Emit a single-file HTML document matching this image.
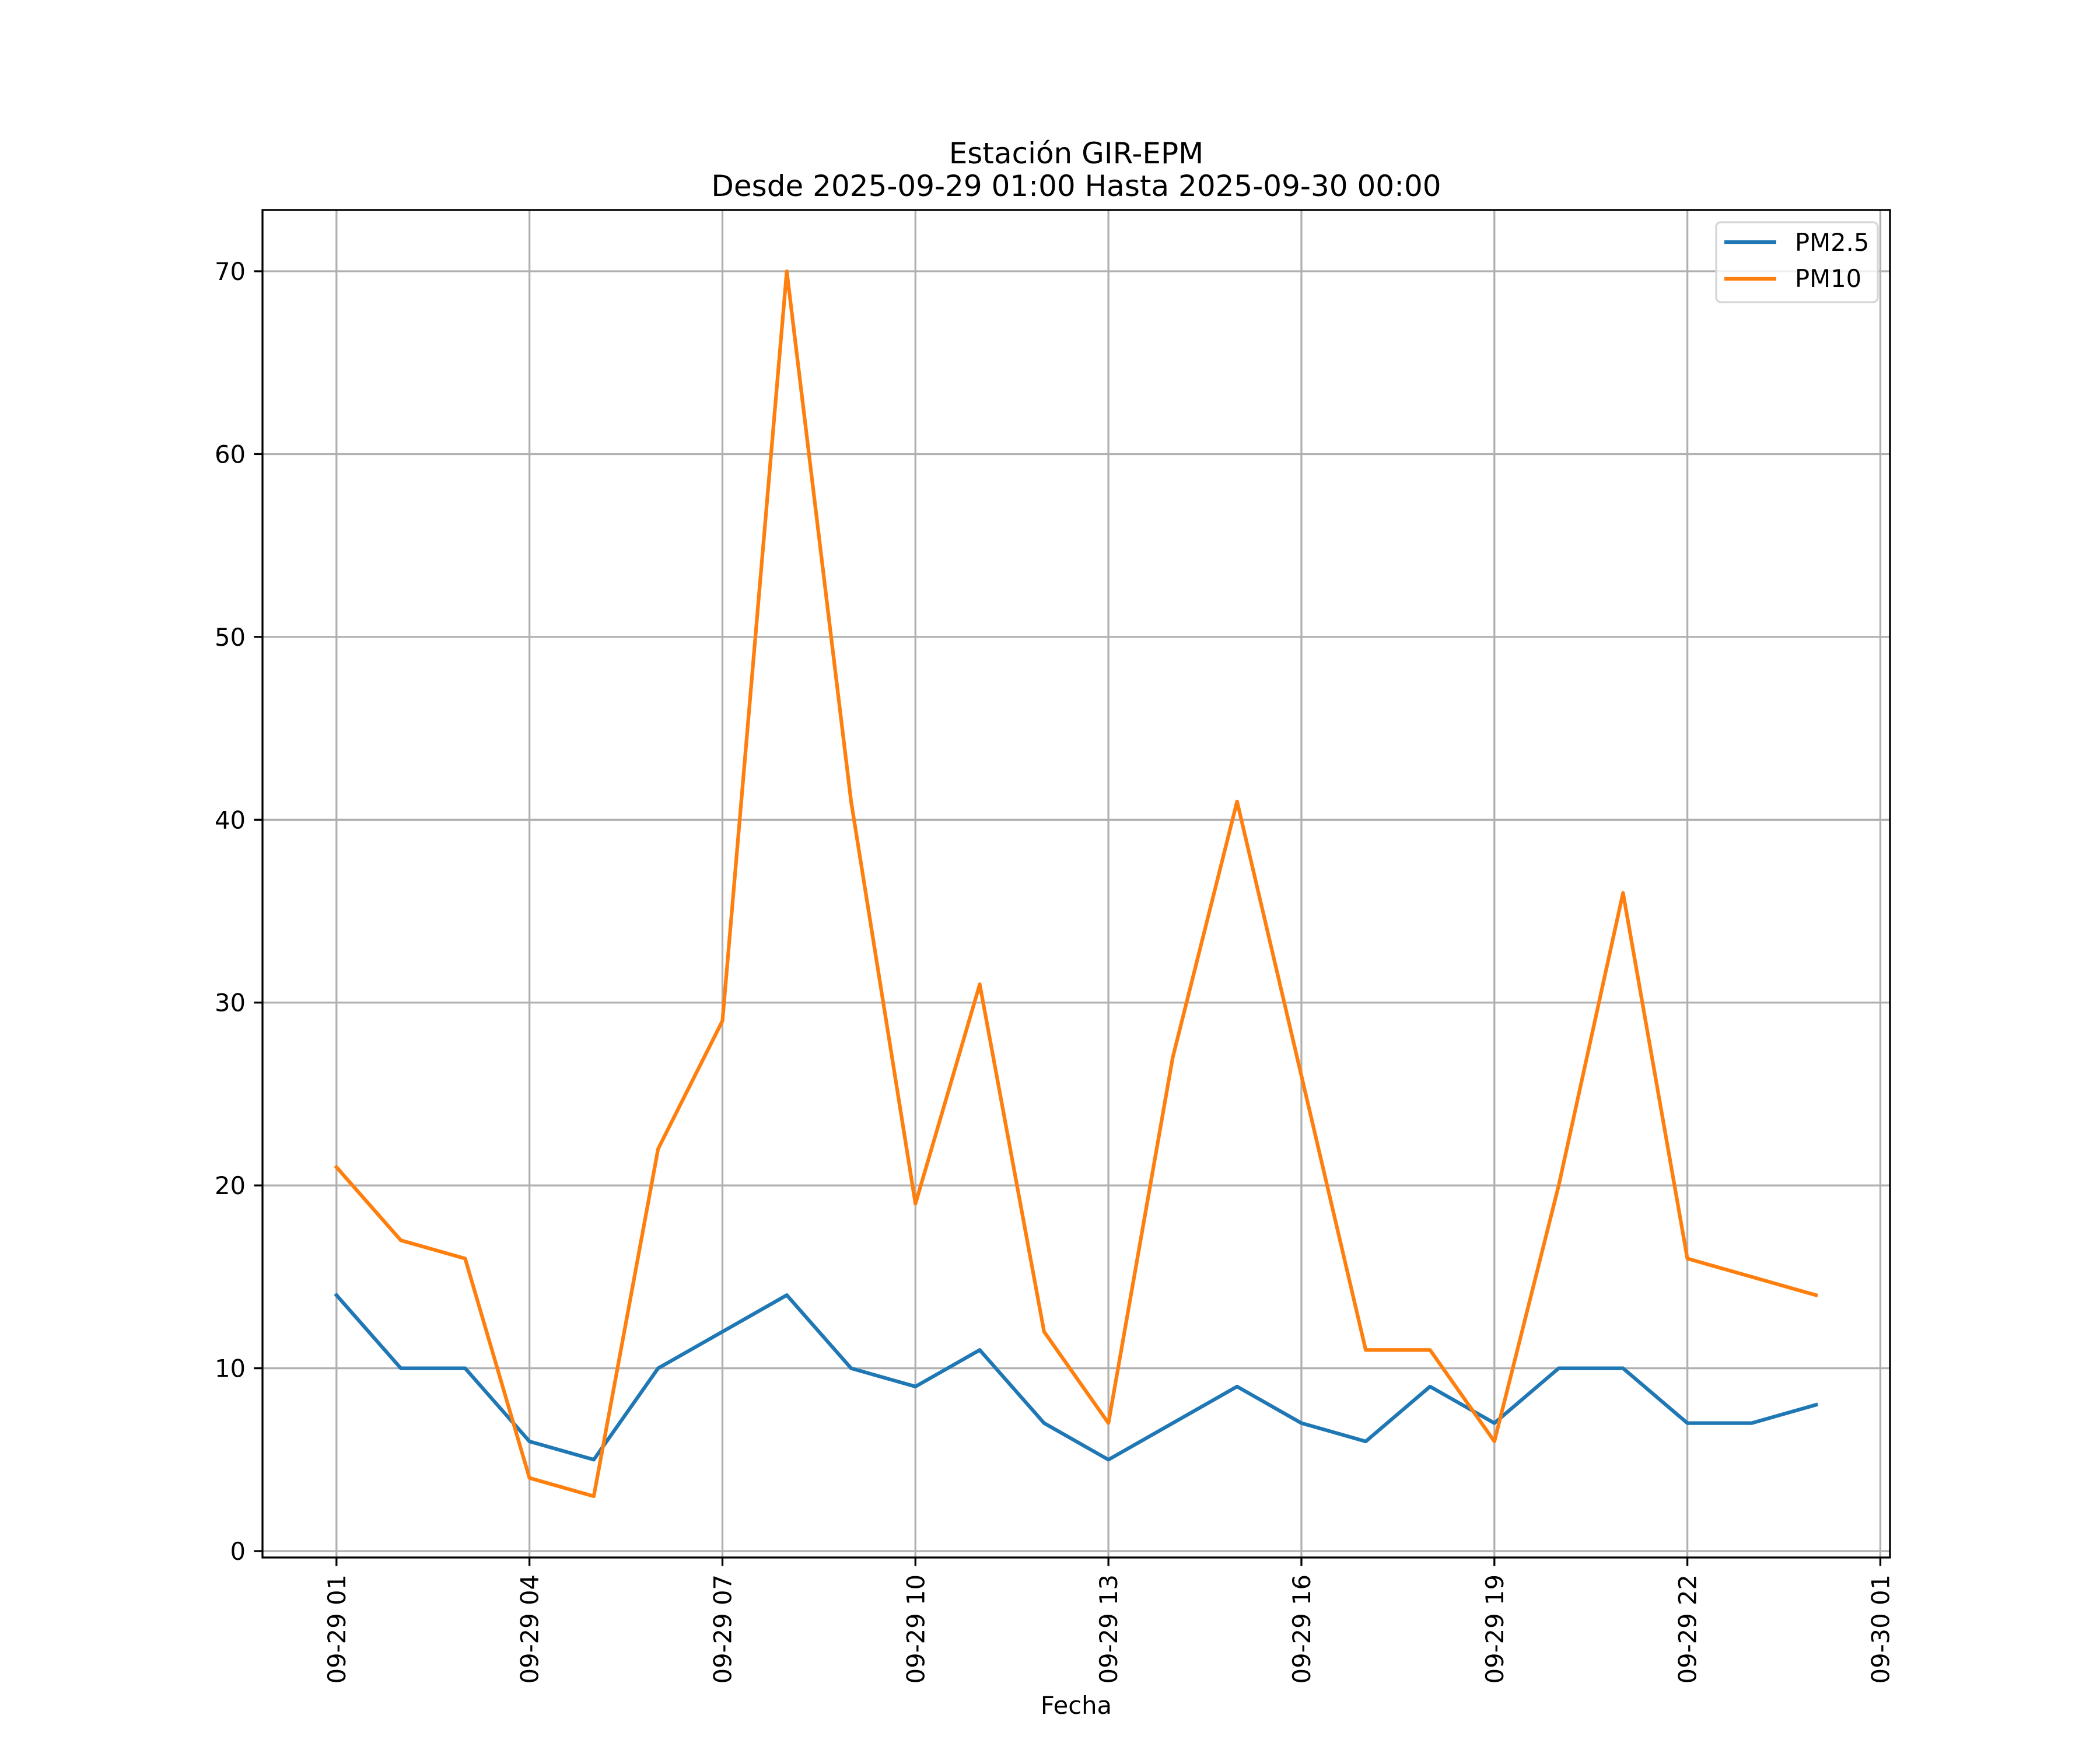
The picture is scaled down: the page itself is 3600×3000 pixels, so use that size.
<!DOCTYPE html>
<html><head><meta charset="utf-8"><style>
html,body{margin:0;padding:0;background:#fff}
svg{display:block;font-family:"DejaVu Sans","Liberation Sans",sans-serif}
</style></head><body>
<svg id="chart" width="3600" height="3000" viewBox="0 0 3600 3000" xmlns="http://www.w3.org/2000/svg">
<rect width="3600" height="3000" fill="#fff"/>
<text x="1845" y="280" font-size="50" text-anchor="middle">Estación GIR-EPM</text>
<text x="1845" y="336" font-size="50" text-anchor="middle">Desde 2025-09-29 01:00 Hasta 2025-09-30 00:00</text>
<g id="grid"></g>
<g id="series"></g>
<g id="axes"></g>
<text x="1845" y="2938" font-size="41.7" text-anchor="middle">Fecha</text>
<g>
<rect x="2942" y="381" width="277" height="137" rx="8" fill="#fff" fill-opacity="0.8" stroke="#d6d6d6" stroke-width="3.3"/>
<line x1="2956" y1="415" x2="3045" y2="415" stroke="#1f77b4" stroke-width="6.25"/>
<text x="3077" y="430" font-size="41.7">PM2.5</text>
<line x1="2956" y1="478" x2="3045" y2="478" stroke="#ff7f0e" stroke-width="6.25"/>
<text x="3077" y="492" font-size="41.7">PM10</text>
</g>
</svg>
<script>
const hours = [1,2,3,4,5,6,7,8,9,10,11,12,13,14,15,16,17,18,19,20,21,22,23,24];
const pm25 = [14,10,10,6,5,10,12,14,10,9,11,7,5,7,9,7,6,9,7,10,10,7,7,8];
const pm10 = [21,17,16,4,3,22,29,70,41,19,31,12,7,27,41,26,11,11,6,20,36,16,15,14];
const xTicks = [1,4,7,10,13,16,19,22,25];
const xTickLabels = ["09-29 01","09-29 04","09-29 07","09-29 10","09-29 13","09-29 16","09-29 19","09-29 22","09-30 01"];
const yTicks = [0,10,20,30,40,50,60,70];

const L=450,R=3240,T=360,B=2670;
const xMin=-0.15,xMax=25.15,yMin=-0.35,yMax=73.35;
const xs=v=>L+(v-xMin)/(xMax-xMin)*(R-L);
const ys=v=>B-(v-yMin)/(yMax-yMin)*(B-T);
const NS="http://www.w3.org/2000/svg";
function mk(tag,attrs,parent){const e=document.createElementNS(NS,tag);for(const k in attrs)e.setAttribute(k,attrs[k]);parent.appendChild(e);return e;}
const grid=document.getElementById('grid'),axes=document.getElementById('axes'),series=document.getElementById('series');

xTicks.forEach((t,i)=>{
  const x=xs(t);
  const g=mk('line',{x1:x,y1:T,x2:x,y2:B,stroke:'#b0b0b0','stroke-width':3.3},grid);
  
  
  const tk=mk('line',{x1:x,y1:B,x2:x,y2:B+14.6,stroke:'#000','stroke-width':3.3},axes);
  
  
  const tx=mk('text',{x:0,y:0,'font-size':41.7,'text-anchor':'end',transform:`translate(${x+15},${B+29}) rotate(-90)`},axes);
  tx.textContent=xTickLabels[i];
  
  
});
yTicks.forEach(t=>{
  const y=ys(t);
  const g=mk('line',{x1:L,y1:y,x2:R,y2:y,stroke:'#b0b0b0','stroke-width':3.3},grid);
  
  
  const tk=mk('line',{x1:L-14.6,y1:y,x2:L,y2:y,stroke:'#000','stroke-width':3.3},axes);
  
  
  const tx=mk('text',{x:L-29,y:y+15,'font-size':41.7,'text-anchor':'end'},axes);
  tx.textContent=String(t);
  
  
});
const frame=mk('rect',{x:L,y:T,width:R-L,height:B-T,fill:'none',stroke:'#000','stroke-width':3.3},axes);



function line(vals,color,name){
  const p=mk('polyline',{points:hours.map((h,i)=>xs(h)+','+ys(vals[i])).join(' '),fill:'none',stroke:color,'stroke-width':6.25,'stroke-linejoin':'round','stroke-linecap':'square'},series);
  
  
}
line(pm25,'#1f77b4','pm25-line');
line(pm10,'#ff7f0e','pm10-line');
</script>
</body></html>
